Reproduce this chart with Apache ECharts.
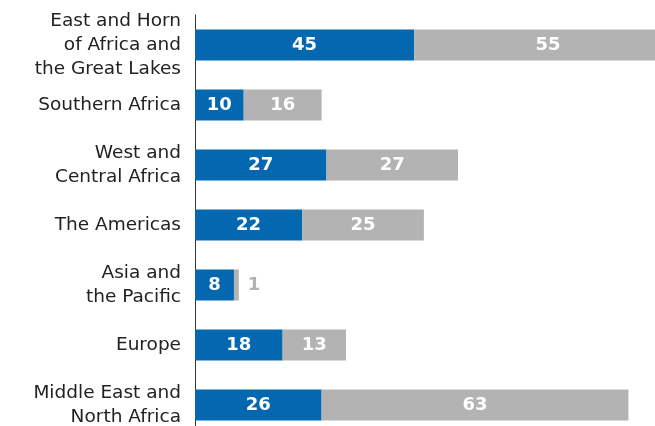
<!DOCTYPE html>
<html>
<head>
<meta charset="utf-8">
<script src="https://cdn.jsdelivr.net/npm/echarts@6/dist/echarts.min.js"></script>
<style>html,body{margin:0;padding:0;background:#fff}#main{width:655px;height:426px}</style>
</head>
<body>
<div id="main"></div>
<script>
var regions = ['East and Horn\nof Africa and\nthe Great Lakes', 'Southern Africa', 'West and\nCentral Africa', 'The Americas', 'Asia and\nthe Pacific', 'Europe', 'Middle East and\nNorth Africa'];
var blueVals = [45, 10, 27, 22, 8, 18, 26];
var greyVals = [55, 16, 27, 25, 1, 13, 63];

var chart = echarts.init(document.getElementById('main'));
var fontFam = '"DejaVu Sans", sans-serif';

var greyData = greyVals.map(function (v) {
  // small value: label sits outside the bar
  if (v < 3) {
    return { value: v, label: { position: 'right', color: '#b3b3b3', distance: 9 } };
  }
  return v;
});

chart.setOption({
  animation: false,
  grid: { left: 195, top: 15, width: 487, height: 420, outerBoundsMode: 'none' },
  xAxis: {
    type: 'value',
    min: 0,
    max: 100,
    show: false
  },
  yAxis: {
    type: 'category',
    inverse: true,
    data: regions,
    axisLine: { show: true, lineStyle: { color: '#333', width: 1 } },
    axisTick: { show: false },
    axisLabel: {
      color: '#222',
      fontSize: 18.5,
      fontFamily: fontFam,
      lineHeight: 24,
      margin: 14,
      align: 'right'
    }
  },
  series: [
    {
      name: 'blue',
      type: 'bar',
      stack: 'a',
      barWidth: 31,
      itemStyle: { color: '#0468b1' },
      label: { show: true, position: 'inside', color: '#fff', fontSize: 18, fontWeight: 'bold', fontFamily: fontFam },
      data: blueVals
    },
    {
      name: 'grey',
      type: 'bar',
      stack: 'a',
      barWidth: 31,
      itemStyle: { color: '#b3b3b3' },
      label: { show: true, position: 'inside', color: '#fff', fontSize: 18, fontWeight: 'bold', fontFamily: fontFam },
      data: greyData
    }
  ]
});
</script>
</body>
</html>
